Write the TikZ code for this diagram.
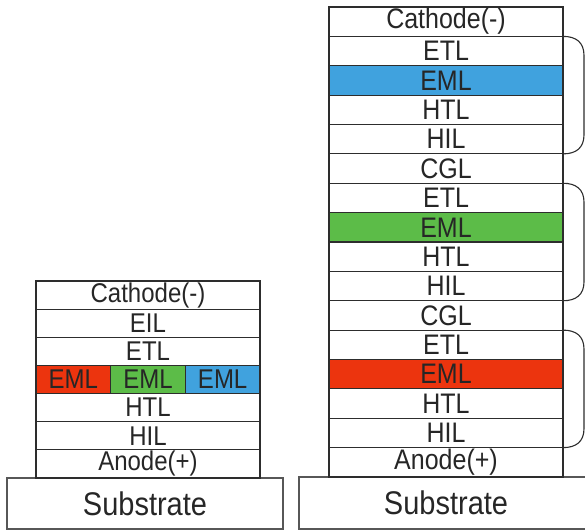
\documentclass[tikz,border=0pt]{standalone}
\usepackage{fontspec}
\usepackage{graphicx}
\setmainfont{Liberation Sans}
\definecolor{emlred}{RGB}{236,52,14}
\definecolor{emlgreen}{RGB}{92,188,72}
\definecolor{emlblue}{RGB}{64,162,222}
\definecolor{edge}{RGB}{45,45,45}
\newcommand{\vst}[1]{\scalebox{1}[1.13]{#1}}
\tikzset{
  layer/.style={draw=edge, line width=1.2pt, anchor=north west, inner sep=0pt, outer sep=0pt, text=black!85, font=\fontsize{24}{24}\selectfont},
  substr/.style={draw=edge!80, line width=1.2pt, anchor=north west, inner sep=0pt, outer sep=0pt, text=black!85, font=\fontsize{29}{29}\selectfont},
  brace/.style={draw=edge, line width=1.1pt},
}
\begin{document}
\begin{tikzpicture}[x=1pt,y=-1pt]
\useasboundingbox (0,0) rectangle (585,530);
% left substrate and stack
\node[substr, minimum width=276pt, minimum height=51pt] (ls) at (7,478) {\vst{Substrate}};
\def\lh{28.14}
\node[layer, minimum width=224pt, minimum height=\lh pt] (l1) at (36,281) {\vst{Cathode(-)}};
\node[layer, minimum width=224pt, minimum height=\lh pt] (l2) at (36,309.14) {\vst{EIL}};
\node[layer, minimum width=224pt, minimum height=\lh pt] (l3) at (36,337.28) {\vst{ETL}};
\node[layer, fill=emlred, minimum width=74.67pt, minimum height=\lh pt] (l4a) at (36,365.42) {\vst{EML}};
\node[layer, fill=emlgreen, minimum width=74.67pt, minimum height=\lh pt] (l4b) at (110.67,365.42) {\vst{EML}};
\node[layer, fill=emlblue, minimum width=74.67pt, minimum height=\lh pt] (l4c) at (185.33,365.42) {\vst{EML}};
\node[layer, minimum width=224pt, minimum height=\lh pt] (l5) at (36,393.56) {\vst{HTL}};
\node[layer, minimum width=224pt, minimum height=\lh pt] (l6) at (36,421.7) {\vst{HIL}};
\node[layer, minimum width=224pt, minimum height=\lh pt] (l7) at (36,449.84) {\vst{Anode(+)}};
% right substrate and stack
\node[substr, minimum width=294pt, minimum height=52pt] (rs) at (299,477) {\vst{Substrate}};
\foreach \t [count=\i] in {Cathode(-),ETL,EML,HTL,HIL,CGL,ETL,EML,HTL,HIL,CGL,ETL,EML,HTL,HIL,Anode(+)}{
  \pgfmathsetmacro{\yy}{7+(\i-1)*29.375}
  \ifnum\i=3 \def\fc{emlblue}\else\ifnum\i=8 \def\fc{emlgreen}\else\ifnum\i=13 \def\fc{emlred}\else\def\fc{white}\fi\fi\fi
  \node[layer, fill=\fc, minimum width=234pt, minimum height=29.375pt, font=\fontsize{25}{25}\selectfont] (r\i) at (329,\yy) {\vst{\t}};
}
% braces
\foreach \a/\b in {2/5,7/10,12/15}{
  \draw[brace] (r\a.north east) .. controls +(13,0) and +(0,-13) .. ([xshift=21pt,yshift=-19pt]r\a.north east)
     -- ([xshift=21pt,yshift=19pt]r\b.south east) .. controls +(0,13) and +(13,0) .. (r\b.south east);
}
\end{tikzpicture}
\end{document}
